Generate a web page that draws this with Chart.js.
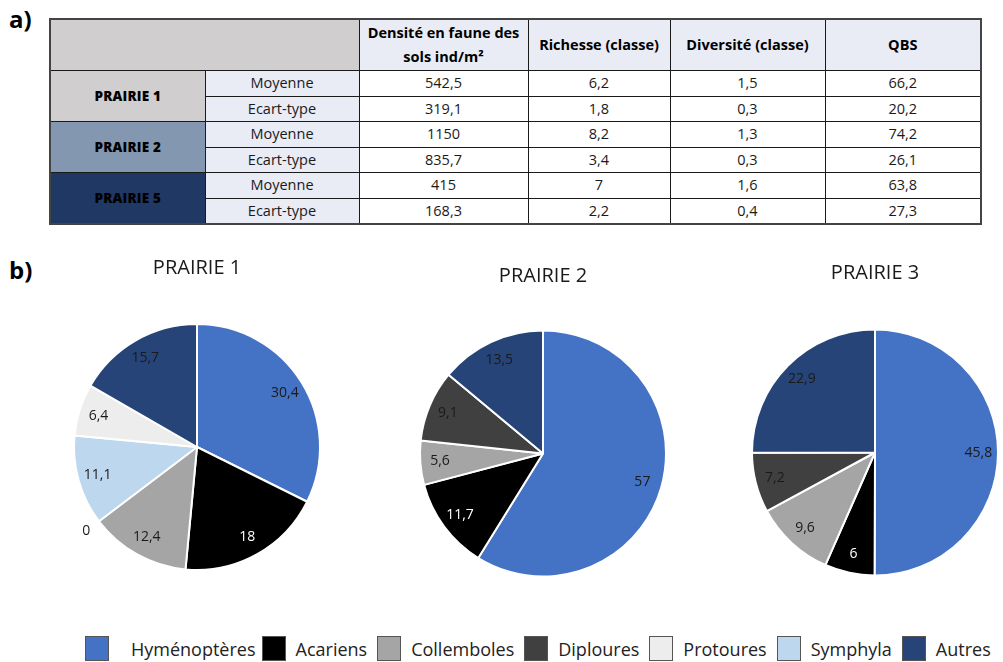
<!DOCTYPE html>
<html lang="fr">
<head>
<meta charset="utf-8">
<title>Faune des sols – prairies</title>
<script src="https://cdn.jsdelivr.net/npm/chart.js@4"></script>
<style>
  html, body { margin: 0; padding: 0; background: #fff; overflow: hidden; }
  body { width: 1003px; height: 662px; position: relative; font-family: "Open Sans", sans-serif; color: #111; }
  .tag { position: absolute; left: 9px; font: bold 24px "Open Sans", sans-serif; color: #000; }
  table { position: absolute; left: 49px; top: 18px; border-collapse: collapse; border: 2px solid #444; table-layout: fixed; }
  td, th { border: 1.5px solid #1a1a1a; text-align: center; padding: 0; font-size: 14.5px; height: 24.5px; line-height: 18px; color: #1a1a1a; }
  th { background: #e9ebf5; font-weight: bold; height: 50px; font-size: 14.5px; line-height: 24px; color: #000; }
  th.corner { background: #d0cece; }
  td.stat { background: #e9ebf5; }
  td.name { font-weight: 800; font-size: 13.5px; letter-spacing: 0.2px; color: #000; }
  .pie { position: absolute; }
  #legend { position: absolute; left: 85px; top: 636px; display: flex; align-items: center; font-size: 18px; color: #222; white-space: nowrap; }
  #legend .box { width: 24px; height: 25px; box-sizing: border-box; border: 1px solid #555; display: inline-block; }
  #legend .item { display: flex; align-items: center; }
  #legend .lbl { margin: 0 10px 0 10px; }
  #legend .item:first-child .lbl { margin-left: 22px; margin-right: 6px; }
</style>
</head>
<body>
<div class="tag" style="top:2px">a)</div>
<div class="tag" style="top:253px">b)</div>
<table id="tbl"></table>

<div class="pie" style="left:67px;top:250px;width:260px;height:355px"><canvas id="pie1"></canvas></div>
<div class="pie" style="left:413px;top:258px;width:260px;height:352px"><canvas id="pie2"></canvas></div>
<div class="pie" style="left:745px;top:255px;width:260px;height:356px"><canvas id="pie3"></canvas></div>

<div id="legend"></div>

<script>
// --- table a) ---
const colHeaders = ['Densité en faune des<br>sols ind/m²', 'Richesse (classe)', 'Diversité (classe)', 'QBS'];
const prairieNames = ['PRAIRIE 1', 'PRAIRIE 2', 'PRAIRIE 5'];
const prairieColors = ['#d0cece', '#8497b0', '#203864'];
const statLabels = ['Moyenne', 'Ecart-type'];
// one entry per row: P1 moy, P1 sd, P2 moy, P2 sd, P5 moy, P5 sd
const densite   = [542.5, 319.1, 1150, 835.7, 415, 168.3];
const richesse  = [6.2, 1.8, 8.2, 3.4, 7, 2.2];
const diversite = [1.5, 0.3, 1.3, 0.3, 1.6, 0.4];
const qbs       = [66.2, 20.2, 74.2, 26.1, 63.8, 27.3];

// --- pies b) ---
// slice order as drawn (clockwise from 12 o'clock)
const groups = ['Hyménoptères', 'Acariens', 'Collemboles', 'Diploures', 'Symphyla', 'Protoures', 'Autres'];
const groupColors = ['#4472c4', '#000000', '#a5a5a5', '#404040', '#bdd7ee', '#ededed', '#264478'];
const legendOrder = ['Hyménoptères', 'Acariens', 'Collemboles', 'Diploures', 'Protoures', 'Symphyla', 'Autres'];
const pieTitles = ['PRAIRIE 1', 'PRAIRIE 2', 'PRAIRIE 3'];
const prairie1 = [30.4, 18, 12.4, 0, 11.1, 6.4, 15.7];
const prairie2 = [57, 11.7, 5.6, 9.1, null, null, 13.5];
const prairie3 = [45.8, 6, 9.6, 7.2, null, null, 22.9];

const fmt = (v) => String(v).replace('.', ',');

// build table
const colWidths = [155, 154, 169, 142, 155, 156];
const tbl = document.getElementById('tbl');
let html = '<colgroup>' + colWidths.map((w) => `<col style="width:${w}px">`).join('') + '</colgroup>';
html += '<tr><th class="corner" colspan="2"></th>' + colHeaders.map((h) => `<th>${h}</th>`).join('') + '</tr>';
prairieNames.forEach((name, p) => {
  statLabels.forEach((s, k) => {
    const r = p * 2 + k;
    html += '<tr>';
    if (k === 0) html += `<td class="name" rowspan="2" style="background:${prairieColors[p]}">${name}</td>`;
    html += `<td class="stat">${s}</td>`;
    html += [densite, richesse, diversite, qbs].map((col) => `<td>${fmt(col[r])}</td>`).join('');
    html += '</tr>';
  });
});
tbl.innerHTML = html;

// value labels inside the slices (zero values go just outside)
const sliceLabels = {
  id: 'sliceLabels',
  afterDatasetsDraw(chart) {
    const { ctx } = chart;
    const ds = chart.data.datasets[0];
    chart.getDatasetMeta(0).data.forEach((arc, i) => {
      const v = ds.data[i];
      if (v === null || v === undefined) return;
      const { x, y, startAngle, endAngle, outerRadius } =
        arc.getProps(['x', 'y', 'startAngle', 'endAngle', 'outerRadius'], true);
      const mid = (startAngle + endAngle) / 2;
      const r = v === 0 ? outerRadius * 1.13 : outerRadius * 0.84;
      ctx.save();
      ctx.font = '14px "Open Sans", sans-serif';
      ctx.fillStyle = v !== 0 && ds.backgroundColor[i] === '#000000' ? '#ffffff' : '#1a1a1a';
      ctx.textAlign = 'center';
      ctx.textBaseline = 'middle';
      ctx.fillText(fmt(v), x + Math.cos(mid) * r, y + Math.sin(mid) * r);
      ctx.restore();
    });
  },
};

function makePie(id, title, values) {
  return new Chart(document.getElementById(id), {
    type: 'pie',
    data: {
      labels: groups,
      datasets: [{
        data: values,
        backgroundColor: groupColors,
        borderColor: '#ffffff',
        borderWidth: 2,
        hoverOffset: 0,
      }],
    },
    options: {
      responsive: true,
      maintainAspectRatio: false,
      animation: false,
      radius: 123,
      layout: { padding: 0 },
      plugins: {
        legend: { display: false },
        tooltip: { enabled: false },
        title: {
          display: true,
          text: title,
          color: '#1a1a1a',
          font: { family: '"Open Sans", sans-serif', size: 20, weight: 'normal' },
          padding: { top: 6, bottom: 9 },
        },
      },
    },
    plugins: [sliceLabels],
  });
}

makePie('pie1', pieTitles[0], prairie1);
makePie('pie2', pieTitles[1], prairie2);
makePie('pie3', pieTitles[2], prairie3);

// shared legend
const legend = document.getElementById('legend');
legend.innerHTML = legendOrder.map((g) => {
  const c = groupColors[groups.indexOf(g)];
  return `<span class="item"><span class="box" style="background:${c}"></span><span class="lbl">${g}</span></span>`;
}).join('');
</script>
</body>
</html>
